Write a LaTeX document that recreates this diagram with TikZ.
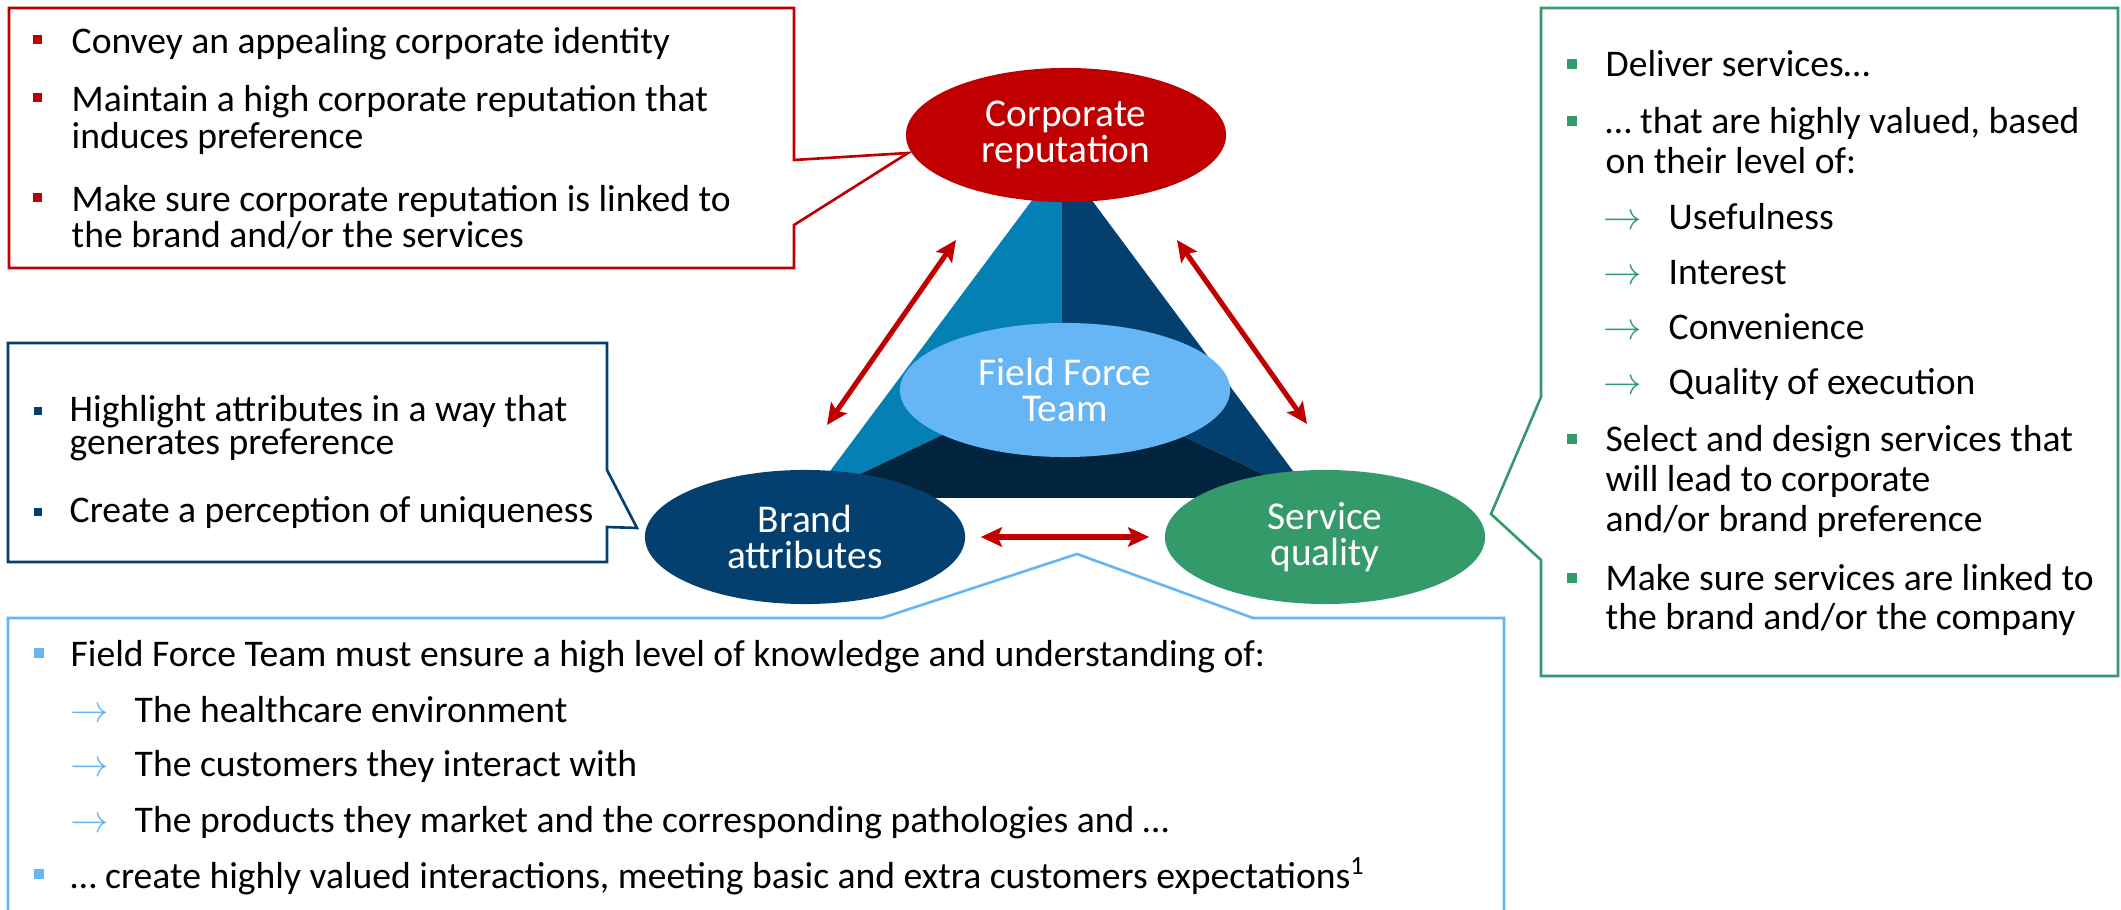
\documentclass[tikz,border=0pt]{standalone}
\usepackage{fontspec}
\setmainfont{Carlito}
\usepackage{tikz}
\usetikzlibrary{arrows.meta,shapes.geometric}

\definecolor{corpred}{HTML}{C00000}
\definecolor{brandblue}{HTML}{03406F}
\definecolor{tealblue}{HTML}{0580B4}
\definecolor{deepblue}{HTML}{02253F}
\definecolor{fieldblue}{HTML}{66B5F5}
\definecolor{servgreen}{HTML}{359A6A}

\begin{document}
\begin{tikzpicture}[x=0.01cm, y=-0.01cm,
	txt/.style = {anchor=base west, inner sep=0pt, font=\fontsize{10.7}{12}\selectfont},
	bubble/.style = {ellipse, minimum width=3.2cm, minimum height=1.34cm, inner sep=0pt, text=white, align=center, font=\fontsize{11.2}{10.2}\selectfont},
	link/.style = {corpred, line width=1.45pt, {Stealth[length=6pt,width=5.5pt,inset=1.2pt]}-{Stealth[length=6pt,width=5.5pt,inset=1.2pt]}}]
	\useasboundingbox (0,0) rectangle (2121,910);

	% triangle behind the team
	\coordinate (apex) at (1062,160);
	\coordinate (bl) at (810,498);
	\coordinate (br) at (1313,498);
	\coordinate (mid) at (1062,378);
	\fill[tealblue] (apex) -- (bl) -- (mid) -- cycle;
	\fill[brandblue] (apex) -- (br) -- (mid) -- cycle;
	\fill[deepblue] (bl) -- (br) -- (mid) -- cycle;

	\node[bubble, fill=corpred] (corp) at (1066,135) {Corporate\\reputation};
	\node[bubble, fill=fieldblue, minimum width=3.3cm] (team) at (1065,390) {Field Force\\Team};
	\node[bubble, fill=brandblue] (brand) at (805,537) {Brand\\attributes};
	\node[bubble, fill=servgreen] (serv) at (1325,537) {Service\\quality};

	\coordinate (la) at (827,425);
	\coordinate (lb) at (956,240);
	\coordinate (ra) at (1177,240);
	\coordinate (rb) at (1307,424);
	\draw[link] (la) -- (lb);
	\draw[link] (ra) -- (rb);
	\draw[link, shorten <=0.15cm, shorten >=0.15cm] (brand.east) -- (serv.west);

	% callout boxes
	\draw[corpred, line width=0.75pt] (9,8) -- (794,8) -- (794,160) -- (908,153) -- (794,225) -- (794,268) -- (9,268) -- cycle;
	\draw[brandblue, line width=0.75pt] (8,343) -- (607,343) -- (607,470) -- (637,528) -- (607,527) -- (607,562) -- (8,562) -- cycle;
	\draw[servgreen, line width=0.75pt] (1541,8) -- (2118,8) -- (2118,676) -- (1541,676) -- (1541,560) -- (1491,514) -- (1541,397) -- cycle;
	\draw[fieldblue, line width=0.75pt] (8,915) -- (8,618) -- (882,618) -- (1077,554) -- (1253,618) -- (1504,618) -- (1504,915);

	% corporate reputation
	\foreach \yy/\t [count=\i] in {54/{Convey an appealing corporate identity}, 112/{Maintain a high corporate reputation that}, 149/{induces preference}, 212/{Make sure corporate reputation is linked to}, 248/{the brand and/or the services}}
		\node[txt] (red\i) at (71,\yy) {\t};
	\foreach \yy in {54,112,212}
		\fill[corpred] (33,\yy-19) rectangle (42,\yy-10);

	% brand attributes
	\foreach \yy/\t [count=\i] in {422/{Highlight attributes in a way that}, 455/{generates preference}, 523/{Create a perception of uniqueness}}
		\node[txt] (blue\i) at (69,\yy) {\t};
	\foreach \yy in {422,523}
		\fill[brandblue] (34,\yy-15) rectangle (42,\yy-7);

	% service quality
	\foreach \yy/\t [count=\i] in {77/{Deliver services…}, 134/{… that are highly valued, based}, 174/{on their level of:}, 452/{Select and design services that}, 492/{will lead to corporate}, 532/{and/or brand preference}, 591/{Make sure services are linked to}, 630/{the brand and/or the company}}
		\node[txt] (green\i) at (1605,\yy) {\t};
	\foreach \yy/\t [count=\i] in {230/Usefulness, 285/Interest, 340/Convenience, 395/Quality of execution}
	{
		\node[txt, text=servgreen] (garrow\i) at (1603,\yy) {$\rightarrow$};
		\node[txt] (gsub\i) at (1668,\yy) {\t};
	}
	\foreach \yy in {77,134,452,591}
		\fill[servgreen] (1567,\yy-18) rectangle (1577,\yy-8);

	% field force team
	\foreach \yy/\t [count=\i] in {667/{Field Force Team must ensure a high level of knowledge and understanding of:}, 888/{… create highly valued interactions, meeting basic and extra customers expectations\textsuperscript{1}}}
		\node[txt] (team\i) at (70,\yy) {\t};
	\foreach \yy/\t [count=\i] in {723/{The healthcare environment}, 777/{The customers they interact with}, 833/{The products they market and the corresponding pathologies and …}}
	{
		\node[txt, text=fieldblue] (tarrow\i) at (70,\yy) {$\rightarrow$};
		\node[txt] (tsub\i) at (134,\yy) {\t};
	}
	\foreach \yy in {667,888}
		\fill[fieldblue] (34,\yy-19) rectangle (44,\yy-9);
\end{tikzpicture}
\end{document}
